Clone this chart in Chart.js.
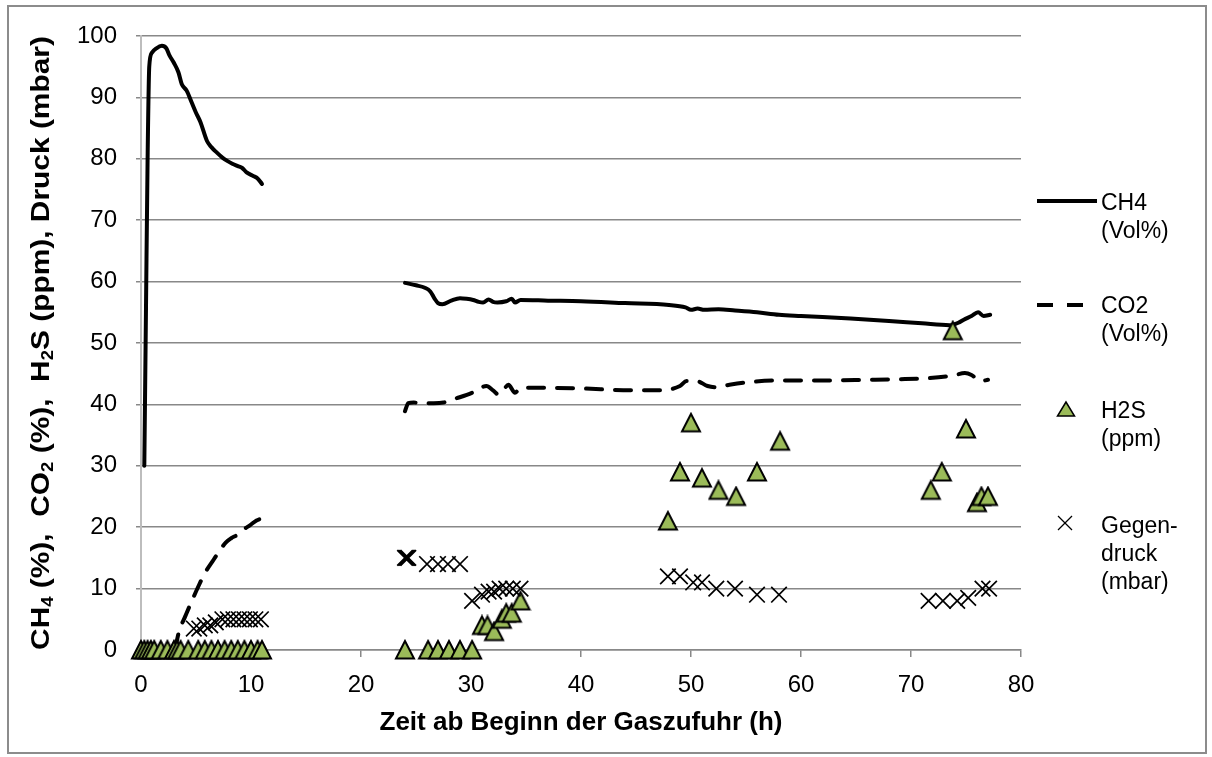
<!DOCTYPE html>
<html>
<head>
<meta charset="utf-8">
<script src="https://cdn.jsdelivr.net/npm/chart.js@4.4.1/dist/chart.umd.min.js"></script>
<style>
  html, body { margin:0; padding:0; background:#fff; }
  body { width:1212px; height:757px; position:relative; overflow:hidden; font-family:"Liberation Sans", Arial, sans-serif; }
  #c { position:absolute; left:0; top:0; }
  #frame { position:absolute; left:7px; top:5px; width:1196px; height:745px; border:2px solid #8c8c8c; pointer-events:none; }
  .leg { position:absolute; left:1101px; font-size:23px; line-height:28px; color:#000; white-space:nowrap; }
  #ytitle { position:absolute; left:40px; top:343px; width:0; height:0; }
  #ytitle span { position:absolute; left:0; top:0; white-space:nowrap; font-weight:bold; font-size:26px; line-height:30px; color:#000;
    transform: translate(-50%,-50%) rotate(-90deg) scaleX(1.15); }
  #ytitle sub { font-size:16px; vertical-align:-4px; line-height:0; }
  svg#legsvg { position:absolute; left:0; top:0; pointer-events:none; }
</style>
</head>
<body>
<canvas id="c" width="1212" height="757"></canvas>
<div id="frame"></div>
<div id="ytitle"><span>CH<sub>4</sub> (%),&nbsp; CO<sub>2</sub> (%),&nbsp; H<sub>2</sub>S (ppm), Druck (mbar)</span></div>
<svg id="legsvg" width="1212" height="757">
  <line x1="1037" y1="201" x2="1097" y2="201" stroke="#000" stroke-width="4"/>
  <line x1="1037" y1="305" x2="1083" y2="305" stroke="#000" stroke-width="4" stroke-dasharray="16 14"/>
  <polygon points="1066,402 1057.5,416 1074.5,416" fill="#9bbb59" stroke="#000" stroke-width="1.5"/>
  <line x1="1058" y1="516" x2="1072" y2="530" stroke="#000" stroke-width="1.2"/>
  <line x1="1058" y1="530" x2="1072" y2="516" stroke="#000" stroke-width="1.2"/>
</svg>
<div class="leg" style="top:188px">CH4<br>(Vol%)</div>
<div class="leg" style="top:291px">CO2<br>(Vol%)</div>
<div class="leg" style="top:396px">H2S<br>(ppm)</div>
<div class="leg" style="top:511px">Gegen-<br>druck<br>(mbar)</div>
<script>
// ---- data (hours since start of gas feed) ----
const xTicks = [0, 10, 20, 30, 40, 50, 60, 70, 80];
const yTicks = [0, 10, 20, 30, 40, 50, 60, 70, 80, 90, 100];

const ch4Hours = [0.3, 0.45, 0.6, 0.75, 1.0, 1.4, 1.9, 2.3, 2.6, 3.0, 3.4, 3.7, 4.15, 4.6, 5.0, 5.4, 6.0, 6.4, 6.9, 7.4, 7.8, 8.3, 8.8, 9.2, 9.6, 10.2, 10.6, 11.0,
  17.0,
  24.0, 25.0, 25.8, 26.3, 26.7, 27.0, 27.4, 28.2, 29.0, 29.6, 30.2, 30.7, 31.1, 31.6, 32.0, 32.4, 33.2, 33.7, 34.0, 34.5, 37.0, 40.0, 44.0, 48.0, 49.5, 50.0, 50.6, 51.2, 52.5, 54.0, 56.0, 58.0, 60.0, 64.5, 68.0, 71.0, 73.5, 74.3, 74.8, 75.5, 76.1, 76.6, 77.2];
const ch4Vol = [30, 55, 80, 95, 97.3, 98.0, 98.4, 98.0, 96.8, 95.6, 94.1, 92.2, 91.1, 89.2, 87.5, 86.0, 82.9, 81.9, 81.0, 80.2, 79.7, 79.2, 78.8, 78.5, 77.8, 77.2, 76.8, 75.9,
  null,
  59.8, 59.4, 59.0, 58.4, 57.2, 56.5, 56.3, 56.9, 57.3, 57.2, 57.0, 56.7, 56.6, 57.1, 56.7, 56.6, 56.8, 57.2, 56.6, 57.0, 56.9, 56.8, 56.5, 56.2, 55.8, 55.4, 55.6, 55.4, 55.5, 55.3, 55.0, 54.6, 54.4, 54.0, 53.6, 53.2, 52.9, 53.3, 53.8, 54.4, 55.0, 54.4, 54.6];

const co2Hours = [0.3, 2.8, 3.1, 3.5, 4.0, 4.6, 5.2, 5.8, 6.6, 7.2, 7.7, 8.2, 8.8, 9.3, 9.9, 10.5, 11.1,
  17.0,
  24.0, 24.3, 24.8, 25.6, 26.6, 27.5, 28.7, 30.1, 31.4, 32.0, 32.5, 33.0, 33.4, 34.0, 34.5, 37.0, 40.0, 44.5, 47.3, 49.0, 49.6, 50.5, 51.5, 52.3, 53.5, 55.1, 57.9, 62.0, 66.0, 69.0, 71.7, 73.8, 74.9, 75.5, 76.3, 77.0];
const co2Vol = [0, 0, 0.5, 3.3, 5.4, 7.9, 10.3, 12.5, 14.7, 16.3, 17.5, 18.2, 18.8, 19.6, 20.3, 21.1, 21.5,
  null,
  38.9, 40.2, 40.3, 40.2, 40.2, 40.3, 41.0, 41.9, 43.0, 42.3, 41.6, 42.5, 43.2, 41.9, 42.7, 42.7, 42.6, 42.3, 42.3, 43.0, 43.8, 43.8, 43.0, 42.8, 43.2, 43.6, 43.9, 43.9, 44.0, 44.1, 44.3, 44.7, 45.1, 44.8, 43.8, 44.0];

const h2sHours = [0, 0.3, 0.6, 0.9, 1.2, 1.8, 2.4, 3.0, 3.3, 3.6, 4.3, 5.2, 5.8, 6.4, 7.0, 7.6, 8.2, 8.8, 9.4, 10.0, 10.6, 11.0,
  24.0, 26.1, 27.0, 28.0, 29.0, 30.1, 31.0, 31.5, 32.1, 32.8, 33.2, 33.7, 34.5,
  47.9, 49.0, 50.0, 51.0, 52.5, 54.1, 56.0, 58.1,
  71.8, 72.8, 73.8, 75.0, 76.0, 76.4, 77.0];
const h2sPpm = [0, 0, 0, 0, 0, 0, 0, 0, 0, 0, 0, 0, 0, 0, 0, 0, 0, 0, 0, 0, 0, 0,
  0, 0, 0, 0, 0, 0, 4, 4, 3, 5, 6, 6, 8,
  21, 29, 37, 28, 26, 25, 29, 34,
  26, 29, 52, 36, 24, 25, 25];

const druckHours = [4.8, 5.3, 5.8, 6.3, 6.8, 7.4, 7.9, 8.4, 8.9, 9.4, 9.9, 10.4, 10.9,
  24.0, 24.1, 24.2, 24.3, 26.0, 27.0, 27.9, 29.0,
  30.1, 31.0, 31.6, 32.1, 32.6, 33.2, 33.8, 34.5,
  47.9, 49.0, 50.2, 51.0, 52.3, 54.0, 56.0, 58.0,
  71.6, 72.9, 74.2, 75.2, 76.5, 77.1];
const druckMbar = [3.5, 3.5, 4, 4, 4.5, 5, 5, 5, 5, 5, 5, 5, 5,
  15, 15, 15, 15, 14, 14, 14, 14,
  8, 9, 9.5, 9.5, 10, 10, 10, 10,
  12, 12, 11, 11, 10, 10, 9, 9,
  8, 8, 8, 8.5, 10, 10];

const seriesNames = ['CH4 (Vol%)', 'CO2 (Vol%)', 'H2S (ppm)', 'Gegendruck (mbar)'];

function pts(xs, ys) { return xs.map((x, i) => ({ x: x, y: ys[i] })); }

// triangle marker like the spreadsheet one (box-centred)
const tri = document.createElement('canvas');
tri.width = 22; tri.height = 22;
(function () {
  const t = tri.getContext('2d');
  t.beginPath();
  t.moveTo(11, 2);
  t.lineTo(2, 19.5);
  t.lineTo(20, 19.5);
  t.closePath();
  t.fillStyle = '#9bbb59';
  t.fill();
  t.lineWidth = 2;
  t.lineJoin = 'miter';
  t.strokeStyle = '#000';
  t.stroke();
})();

const FONT = '"Liberation Sans", Arial, sans-serif';

new Chart(document.getElementById('c'), {
  type: 'line',
  data: {
    datasets: [
      { label: seriesNames[0], data: pts(ch4Hours, ch4Vol), borderColor: '#000', borderWidth: 4, pointRadius: 0,
        cubicInterpolationMode: 'monotone', spanGaps: false, order: 3, borderCapStyle: 'round', borderJoinStyle: 'round' },
      { label: seriesNames[1], data: pts(co2Hours, co2Vol), borderColor: '#000', borderWidth: 4, borderDash: [16, 13], pointRadius: 0,
        cubicInterpolationMode: 'monotone', spanGaps: false, order: 4, borderCapStyle: 'round' },
      { label: seriesNames[2], data: pts(h2sHours, h2sPpm), showLine: false, pointStyle: tri, pointRadius: 10, order: 2, clip: false },
      { label: seriesNames[3], data: pts(druckHours, druckMbar), showLine: false, pointStyle: 'crossRot', pointRadius: 11,
        pointBorderWidth: 1.7, borderColor: '#000', backgroundColor: '#000', order: 1, clip: false }
    ]
  },
  options: {
    responsive: false,
    animation: false,
    events: [],
    layout: { padding: { top: 36, left: 0, right: 191, bottom: 0 } },
    plugins: { legend: { display: false }, tooltip: { enabled: false } },
    scales: {
      x: {
        type: 'linear', min: 0, max: 80,
        afterFit: s => { s.height = 107; },
        afterBuildTicks: s => { s.ticks = xTicks.map(v => ({ value: v })); },
        ticks: { font: { family: FONT, size: 24 }, color: '#000', padding: 14, maxRotation: 0 },
        grid: { drawOnChartArea: false, drawTicks: true, tickLength: 7, color: '#888', lineWidth: 1.5 },
        border: { color: '#888', width: 1.5 },
        title: { display: true, text: 'Zeit ab Beginn der Gaszufuhr (h)', color: '#000',
          font: { family: FONT, size: 26, weight: 'bold' }, padding: { top: 0, bottom: 19 } }
      },
      y: {
        type: 'linear', min: 0, max: 100,
        afterFit: s => { s.width = 141; },
        afterBuildTicks: s => { s.ticks = yTicks.map(v => ({ value: v })); },
        ticks: { font: { family: FONT, size: 24 }, color: '#000', padding: 19 },
        grid: { color: '#888', lineWidth: 1.5, tickLength: 5 },
        border: { color: '#bdbdbd', width: 2 }
      }
    }
  }
});
</script>
</body>
</html>
